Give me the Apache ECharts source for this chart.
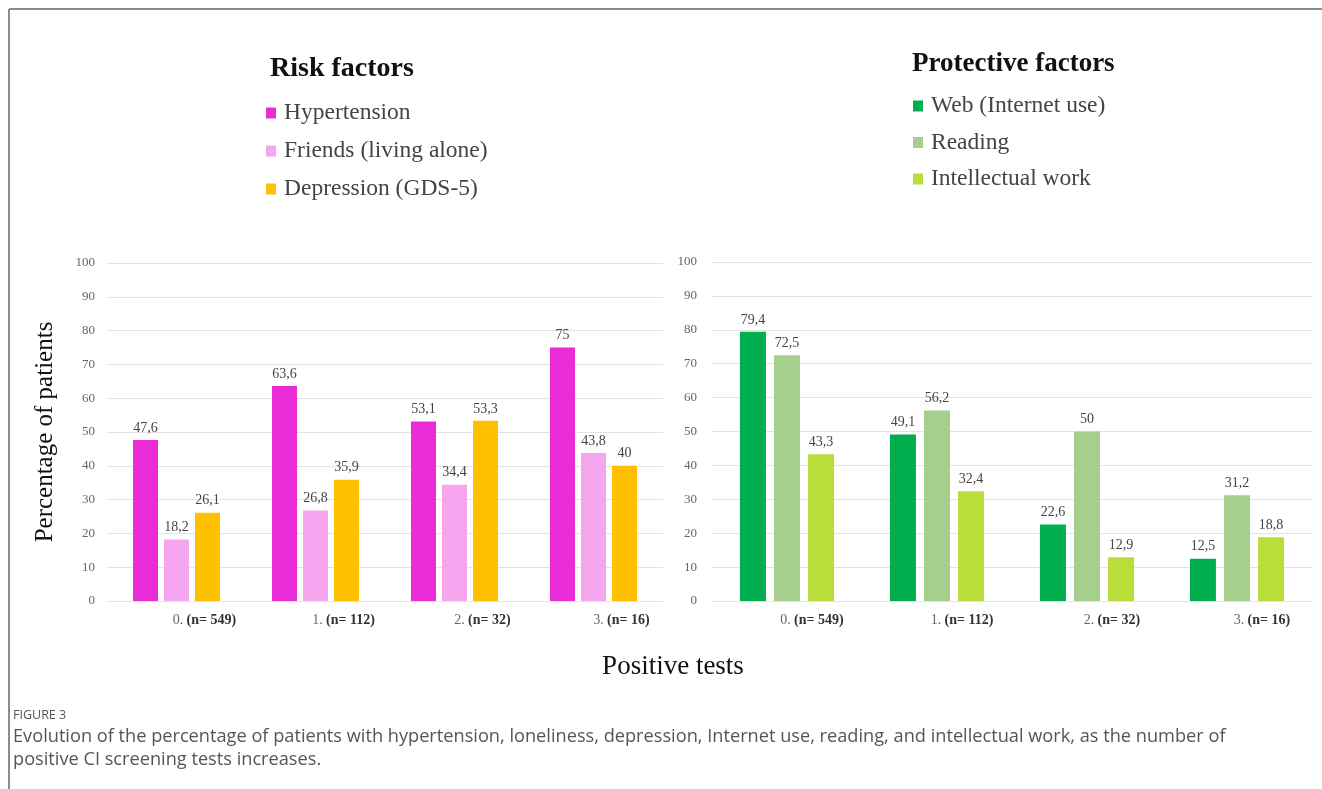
<!DOCTYPE html>
<html>
<head>
<meta charset="utf-8">
<script src="https://cdn.jsdelivr.net/npm/echarts@6/dist/echarts.min.js"></script>
<style>
html,body{margin:0;padding:0;background:#fff;}
#c{width:1322px;height:789px;}
</style>
</head>
<body>
<div id="c"></div>
<script>
const categories = ['0.', '1.', '2.', '3.'];
const sampleSizes = ['(n= 549)', '(n= 112)', '(n= 32)', '(n= 16)'];
const yTicks = [0, 10, 20, 30, 40, 50, 60, 70, 80, 90, 100];

const riskNames = ['Hypertension', 'Friends (living alone)', 'Depression (GDS-5)'];
const hypertension = [47.6, 63.6, 53.1, 75];
const friends = [18.2, 26.8, 34.4, 43.8];
const depression = [26.1, 35.9, 53.3, 40];

const protectiveNames = ['Web (Internet use)', 'Reading', 'Intellectual work'];
const web = [79.4, 49.1, 22.6, 12.5];
const reading = [72.5, 56.2, 50, 31.2];
const intellectual = [43.3, 32.4, 12.9, 18.8];

const riskColors = ['#E92CD6', '#F5A6EE', '#FFC000'];
const protColors = ['#00AE4F', '#A6CF8E', '#B9DE3A'];

const SERIF = '"Liberation Serif", "DejaVu Serif", serif';
const SANS = '"Open Sans", sans-serif';
const chart = echarts.init(document.getElementById('c'));

const catLabels = categories.map((c, i) => c + ' ' + sampleSizes[i]);

function xAxis(gridIndex, pad) {
  return {
    type: 'category', gridIndex, data: catLabels,
    axisLine: { show: false }, axisTick: { show: false },
    axisLabel: {
      margin: 12, padding: [0, 0, 0, pad],
      formatter: v => { const p = v.split(' '); return '{a|' + p[0] + '} {b|' + p.slice(1).join(' ') + '}'; },
      rich: {
        a: { fontFamily: SERIF, fontSize: 14, color: '#666' },
        b: { fontFamily: SERIF, fontSize: 14, color: '#333', fontWeight: 'bold' }
      }
    }
  };
}
function yAxis(gridIndex, margin) {
  return {
    type: 'value', gridIndex, min: yTicks[0], max: yTicks[yTicks.length - 1], interval: 10,
    axisLine: { show: false }, axisTick: { show: false },
    axisLabel: { margin, fontFamily: SERIF, fontSize: 13, color: '#666' },
    splitLine: { lineStyle: { color: '#e3e3e3', width: 1 } }
  };
}
function bar(name, data, color, idx, width, gap) {
  return {
    type: 'bar', name, data, xAxisIndex: idx, yAxisIndex: idx,
    barWidth: width, barGap: gap,
    itemStyle: { color },
    label: {
      show: true, position: 'top', distance: 5,
      fontFamily: SERIF, fontSize: 14, color: '#444',
      formatter: p => String(p.value).replace('.', ',')
    }
  };
}

chart.setOption({
  animation: false,
  backgroundColor: '#fff',
  title: [
    { text: 'Risk factors', left: 265, top: 50, textStyle: { fontFamily: SERIF, fontSize: 28, fontWeight: 'bold', color: '#111' } },
    { text: 'Protective factors', left: 907, top: 46, textStyle: { fontFamily: SERIF, fontSize: 27, fontWeight: 'bold', color: '#111' } },
    { text: 'FIGURE 3', left: 8, top: 704, textStyle: { fontFamily: SANS, fontSize: 12.5, fontWeight: 'normal', color: '#555' } },
    { text: 'Evolution of the percentage of patients with hypertension, loneliness, depression, Internet use, reading, and intellectual work, as the number of\npositive CI screening tests increases.',
      left: 8, top: 720, textStyle: { fontFamily: SANS, fontSize: 18.2, fontWeight: 'normal', color: '#555', lineHeight: 23 } }
  ],
  legend: [
    { data: riskNames, orient: 'vertical', left: 261, top: 96, itemWidth: 10, itemHeight: 11, itemGap: 14, icon: 'rect',
      textStyle: { fontFamily: SERIF, fontSize: 23.5, color: '#444', lineHeight: 23, padding: [0, 0, 0, 3] }, selectedMode: false },
    { data: protectiveNames, orient: 'vertical', left: 908, top: 89, itemWidth: 10, itemHeight: 11, itemGap: 12.5, icon: 'rect',
      textStyle: { fontFamily: SERIF, fontSize: 23.5, color: '#444', lineHeight: 23, padding: [0, 0, 0, 3] }, selectedMode: false }
  ],
  grid: [
    { left: 107, right: 659, top: 263, bottom: 188 },
    { left: 712, right: 10, top: 262, bottom: 188 }
  ],
  xAxis: [xAxis(0, 56), xAxis(1, 50)],
  yAxis: [
    Object.assign(yAxis(0, 12), { name: 'Percentage of patients', nameLocation: 'middle', nameGap: 49, nameRotate: 90,
      nameTextStyle: { fontFamily: SERIF, fontSize: 25, color: '#111' } }),
    yAxis(1, 15)
  ],
  series: [
    bar(riskNames[0], hypertension, riskColors[0], 0, 25, '24%'),
    bar(riskNames[1], friends, riskColors[1], 0, 25, '24%'),
    bar(riskNames[2], depression, riskColors[2], 0, 25, '24%'),
    bar(protectiveNames[0], web, protColors[0], 1, 26, '31%'),
    bar(protectiveNames[1], reading, protColors[1], 1, 26, '31%'),
    bar(protectiveNames[2], intellectual, protColors[2], 1, 26, '31%')
  ],
  graphic: [
    { type: 'line', shape: { x1: 9, y1: 9, x2: 1322, y2: 9 }, style: { stroke: '#8c8c8c', lineWidth: 2 } },
    { type: 'line', shape: { x1: 9, y1: 9, x2: 9, y2: 789 }, style: { stroke: '#8c8c8c', lineWidth: 2 } },
    { type: 'text', x: 673, y: 667, style: { text: 'Positive tests', fontFamily: SERIF, fontSize: 27, fill: '#111', textAlign: 'center', textVerticalAlign: 'middle' } }
  ]
});
</script>
</body>
</html>
